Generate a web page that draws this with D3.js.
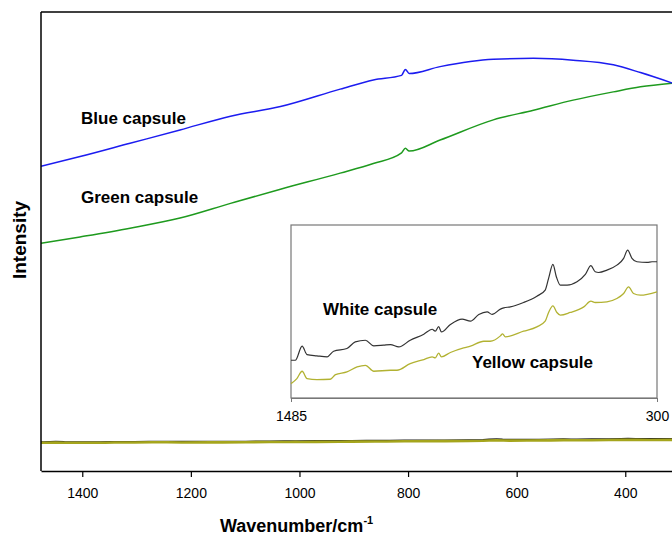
<!DOCTYPE html>
<html>
<head>
<meta charset="utf-8">
<script src="https://cdn.jsdelivr.net/npm/d3@7"></script>
<style>
  body { margin: 0; background: #fff; }
  text { font-family: "Liberation Sans", Arial, sans-serif; }
</style>
</head>
<body>
<script>
// wavenumbers (cm-1) and intensities (a.u.)
var blueWn  = [1476, 1404, 1312, 1220, 1127, 1035, 925, 864, 812, 805, 798, 741, 643, 569, 496, 422, 372, 313];
var blueI   = [66.4, 68.5, 71.4, 74.3, 77.3, 79.4, 83.2, 85.2, 86.2, 87.5, 86.6, 88.1, 89.7, 89.9, 89.5, 88.5, 86.8, 84.5];
var greenWn = [1476, 1404, 1312, 1220, 1127, 1035, 925, 864, 812, 805, 798, 741, 643, 569, 496, 422, 372, 313];
var greenI  = [49.6, 51.0, 52.9, 55.1, 58.3, 61.4, 64.9, 67.0, 69.3, 70.3, 69.7, 72.1, 76.5, 78.6, 80.8, 82.6, 83.7, 84.5];

var whiteWn = [1485, 1471, 1449, 1433, 1401, 1368, 1347, 1304, 1277, 1244, 1217, 1185, 1163, 1136, 1099, 1055, 1028, 1018, 1007, 998,
               969, 931, 904, 877, 850, 834, 807, 796, 775, 732, 689, 662, 651, 637, 626, 613, 591, 559, 532, 514,
               500, 489, 462, 430, 408, 395, 381, 365, 332, 316, 300];
var whiteI  = [6.300, 6.300, 6.400, 6.340, 6.331, 6.324, 6.364, 6.383, 6.430, 6.442, 6.402, 6.407, 6.411, 6.395, 6.442, 6.485, 6.520, 6.506, 6.539, 6.501,
               6.554, 6.592, 6.577, 6.625, 6.644, 6.625, 6.663, 6.672, 6.679, 6.710, 6.755, 6.798, 6.881, 6.980, 6.893, 6.833, 6.833, 6.857, 6.909, 6.971,
               6.928, 6.923, 6.940, 6.975, 7.023, 7.082, 7.023, 6.999, 6.994, 6.999, 6.999];
var yellowWn = [1485, 1466, 1449, 1433, 1401, 1358, 1341, 1304, 1271, 1244, 1217, 1163, 1142, 1099, 1055, 1028, 1018, 1007, 998, 969,
                926, 904, 861, 840, 807, 800, 791, 732, 689, 662, 651, 637, 624, 613, 581, 537, 514, 500, 462, 430,
                408, 392, 376, 354, 300];
var yellowI  = [6.134, 6.170, 6.222, 6.170, 6.163, 6.165, 6.198, 6.217, 6.253, 6.264, 6.222, 6.229, 6.229, 6.276, 6.305, 6.324, 6.317, 6.350, 6.324, 6.355,
                6.388, 6.400, 6.435, 6.435, 6.473, 6.487, 6.466, 6.506, 6.537, 6.577, 6.639, 6.686, 6.639, 6.620, 6.639, 6.679, 6.719, 6.710, 6.715, 6.738,
                6.774, 6.821, 6.774, 6.762, 6.786];

var mainTicks = [1400, 1200, 1000, 800, 600, 400];
var insetTicks = [1485, 300];

function zip(a, b) { return a.map(function(d, i) { return {w: d, v: b[i]}; }); }

var W = 672, H = 539;
var svg = d3.select("body").append("svg").attr("width", W).attr("height", H);

// main plot
var mLeft = 41, mTop = 12, mBottom = 471;
var x = d3.scaleLinear().domain([1476, 300]).range([mLeft, mLeft + 1176 * 0.543]);
var y = d3.scaleLinear().domain([0, 100]).range([mBottom, mTop]);

svg.append("defs").append("clipPath").attr("id", "clipMain")
  .append("rect").attr("x", mLeft).attr("y", mTop).attr("width", 700).attr("height", mBottom - mTop);

var line = d3.line().x(function(d) { return x(d.w); }).y(function(d) { return y(d.v); });
var lineSmooth = d3.line().curve(d3.curveMonotoneX).x(function(d) { return x(d.w); }).y(function(d) { return y(d.v); });

var g = svg.append("g").attr("clip-path", "url(#clipMain)");
g.append("path").datum(zip(whiteWn, whiteI)).attr("d", line)
  .attr("fill", "none").attr("stroke", "#222").attr("stroke-width", 1.6);
g.append("path").datum(zip(yellowWn, yellowI)).attr("d", line)
  .attr("fill", "none").attr("stroke", "#a5a51c").attr("stroke-width", 2.6);
g.append("path").datum(zip(greenWn, greenI)).attr("d", lineSmooth)
  .attr("fill", "none").attr("stroke", "#1e9a1e").attr("stroke-width", 1.5);
g.append("path").datum(zip(blueWn, blueI)).attr("d", lineSmooth)
  .attr("fill", "none").attr("stroke", "#1c1cf0").attr("stroke-width", 1.5);

// frame: top and left border
svg.append("line").attr("x1", mLeft).attr("x2", W + 10).attr("y1", mTop).attr("y2", mTop)
  .attr("stroke", "#000").attr("stroke-width", 1.5);
svg.append("line").attr("x1", mLeft).attr("x2", mLeft).attr("y1", mTop).attr("y2", mBottom)
  .attr("stroke", "#000").attr("stroke-width", 1.5);

var xAxis = svg.append("g").attr("transform", "translate(0," + mBottom + ")")
  .call(d3.axisBottom(x).tickValues(mainTicks).tickSize(6).tickSizeOuter(0).tickPadding(11)
    .tickFormat(d3.format("d")));
xAxis.select(".domain").attr("stroke-width", 1.5);
xAxis.selectAll(".tick line").attr("stroke-width", 1.2);
xAxis.selectAll("text").attr("font-size", 14).attr("fill", "#000")
  .style("font-family", "'Liberation Sans', Arial, sans-serif");

// axis titles
var xt = svg.append("text").attr("x", 220).attr("y", 532)
  .attr("font-size", 18).attr("font-weight", "bold");
xt.append("tspan").text("Wavenumber/cm");
xt.append("tspan").attr("dy", -8).attr("font-size", 11).text("-1");

svg.append("text").attr("transform", "translate(26,240) rotate(-90)")
  .attr("text-anchor", "middle").attr("font-size", 19).attr("font-weight", "bold")
  .text("Intensity");

svg.append("text").attr("x", 81).attr("y", 124).attr("font-size", 17).attr("font-weight", "bold").text("Blue capsule");
svg.append("text").attr("x", 81).attr("y", 203).attr("font-size", 17).attr("font-weight", "bold").text("Green capsule");

// inset
var il = 291, ir = 657, it = 225, ib = 398;
var xi = d3.scaleLinear().domain([1485, 300]).range([il, ir]);
var yi = d3.scaleLinear().domain([6.032, 7.260]).range([ib, it]);
var lineI = d3.line().curve(d3.curveMonotoneX).x(function(d) { return xi(d.w); }).y(function(d) { return yi(d.v); });

svg.append("rect").attr("x", il).attr("y", it).attr("width", ir - il).attr("height", ib - it)
  .attr("fill", "#fff").attr("stroke", "#777").attr("stroke-width", 1.2);
svg.append("path").datum(zip(whiteWn, whiteI)).attr("d", lineI)
  .attr("fill", "none").attr("stroke", "#333").attr("stroke-width", 1.2);
svg.append("path").datum(zip(yellowWn, yellowI)).attr("d", lineI)
  .attr("fill", "none").attr("stroke", "#b2b232").attr("stroke-width", 1.3);

var iAxis = svg.append("g").attr("transform", "translate(0," + ib + ")")
  .call(d3.axisBottom(xi).tickValues(insetTicks).tickSize(4).tickSizeOuter(0).tickPadding(9)
    .tickFormat(d3.format("d")));
iAxis.select(".domain").attr("stroke", "#777").attr("stroke-width", 1.2);
iAxis.selectAll(".tick line").attr("stroke", "#777");
iAxis.selectAll("text").attr("font-size", 14).attr("fill", "#000")
  .style("font-family", "'Liberation Sans', Arial, sans-serif");

svg.append("text").attr("x", 323).attr("y", 315).attr("font-size", 17).attr("font-weight", "bold").text("White capsule");
svg.append("text").attr("x", 472).attr("y", 368).attr("font-size", 17).attr("font-weight", "bold").text("Yellow capsule");
</script>
</body>
</html>
